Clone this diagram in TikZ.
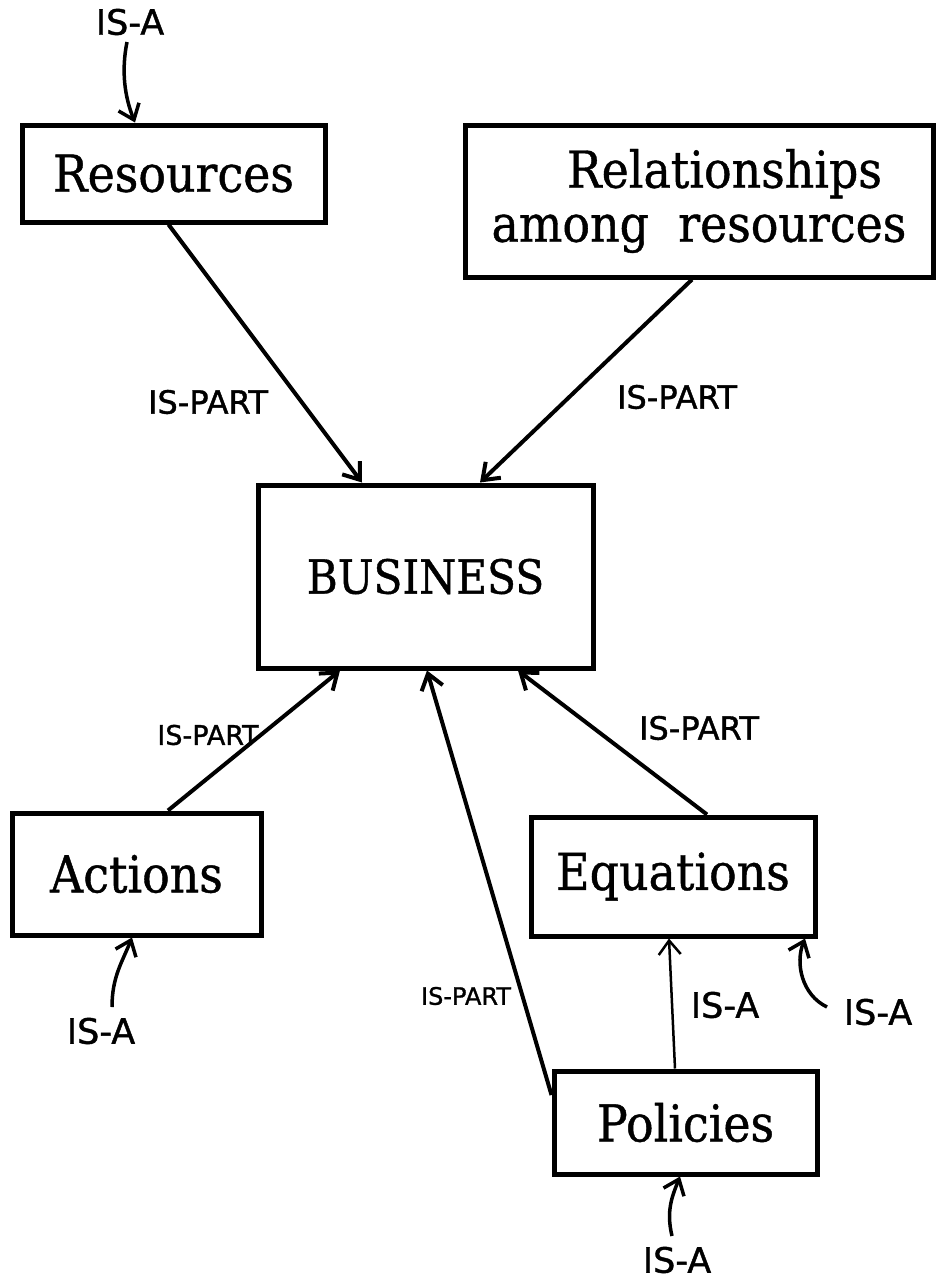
\documentclass[tikz,border=0pt]{standalone}
\usepackage{fontspec}
\usetikzlibrary{arrows.meta}
\newfontfamily\boxfont[FakeStretch=0.9,FakeBold=0.8]{DejaVu Serif}
\newfontfamily\handfont[FakeBold=1.2]{DejaVu Sans}
\begin{document}
\begin{tikzpicture}[x=1pt,y=-1pt,
  box/.style={draw,line width=5pt,inner sep=0pt,align=center,
    font=\boxfont\fontsize{51}{54}\selectfont},
  partof/.style={line width=4pt,-{Straight Barb[length=15pt,width=22pt]}},
  isa/.style={line width=3.5pt,-{Straight Barb[length=14pt,width=22pt]}},
  lbl/.style={font=\handfont\fontsize{32}{32}\selectfont,inner sep=0pt},
  lblsmall/.style={font=\handfont\fontsize{24}{24}\selectfont,inner sep=0pt},
  lblA/.style={font=\handfont\fontsize{35}{35}\selectfont,inner sep=0pt},
]
\fill[white] (0,0) rectangle (935,1282);
\useasboundingbox (0,0) rectangle (935,1282);

% concept boxes
\node[box,minimum width=303pt,minimum height=97pt]  (res) at (173.5,173.5) {Resources};
\node[box,minimum width=468pt,minimum height=152pt] (rel) at (699,201)
  {\hspace*{1em}Relationships\\among\ \ resources};
\node[box,minimum width=335pt,minimum height=183pt,
      font=\boxfont\fontsize{47}{50}\selectfont] (bus) at (425.5,576.5) {BUSINESS};
\node[box,minimum width=249pt,minimum height=122pt] (act) at (136.5,874) {Actions};
\node[box,minimum width=284pt,minimum height=119pt] (equ) at (673,876.5) {Equations};
\node[box,minimum width=263pt,minimum height=103pt] (pol) at (685.5,1122.5) {Policies};

% IS-PART links into BUSINESS
\draw[partof] ([xshift=-5pt]res.south) -- ([xshift=-63.5pt]bus.north);
\node[lbl] (lres) at (208,402) {IS-PART};
\draw[partof] ([xshift=-7pt]rel.south) -- ([xshift=54.5pt]bus.north);
\node[lbl] (lrel) at (677,397) {IS-PART};
\draw[partof] ([xshift=31.5pt]act.north) -- ([xshift=-85.5pt]bus.south);
\node[lbl,font=\handfont\fontsize{27}{27}\selectfont] (lact) at (208,735) {IS-PART};
\draw[partof] ([yshift=27.5pt]pol.west) -- ([xshift=1.5pt]bus.south);
\node[lblsmall] (lpol) at (466,996) {IS-PART};
\draw[partof] ([xshift=34pt]equ.north) -- ([xshift=92.5pt]bus.south);
\node[lbl] (lequ) at (699,728) {IS-PART};

% IS-A links
\draw[isa,line width=2.5pt] ([xshift=-10.5pt]pol.north) -- ([xshift=-4pt]equ.south);
\node[lblA] (lpe) at (725,1005) {IS-A};

\node[lblA] (isaR) at (130,22) {IS-A};
\coordinate (tR) at (127,42);
\draw[isa] (tR) .. controls +(-6,30) and +(-10,-25) .. ([xshift=-38.5pt]res.north);

\node[lblA] (isaA) at (101,1031) {IS-A};
\coordinate (tA) at (112,1007);
\draw[isa] (tA) .. controls +(0,-30) and +(-10,25) .. ([xshift=-4.5pt]act.south);

\node[lblA] (isaE) at (878,1012) {IS-A};
\coordinate (tE) at (827,1007);
\draw[isa] (tE) .. controls +(-25,-12) and +(-10,25) .. ([xshift=132pt]equ.south);

\node[lblA] (isaP) at (677,1260) {IS-A};
\coordinate (tP) at (672,1236);
\draw[isa] (tP) .. controls +(-6,-25) and +(-8,20) .. ([xshift=-5.5pt]pol.south);
\end{tikzpicture}
\end{document}
